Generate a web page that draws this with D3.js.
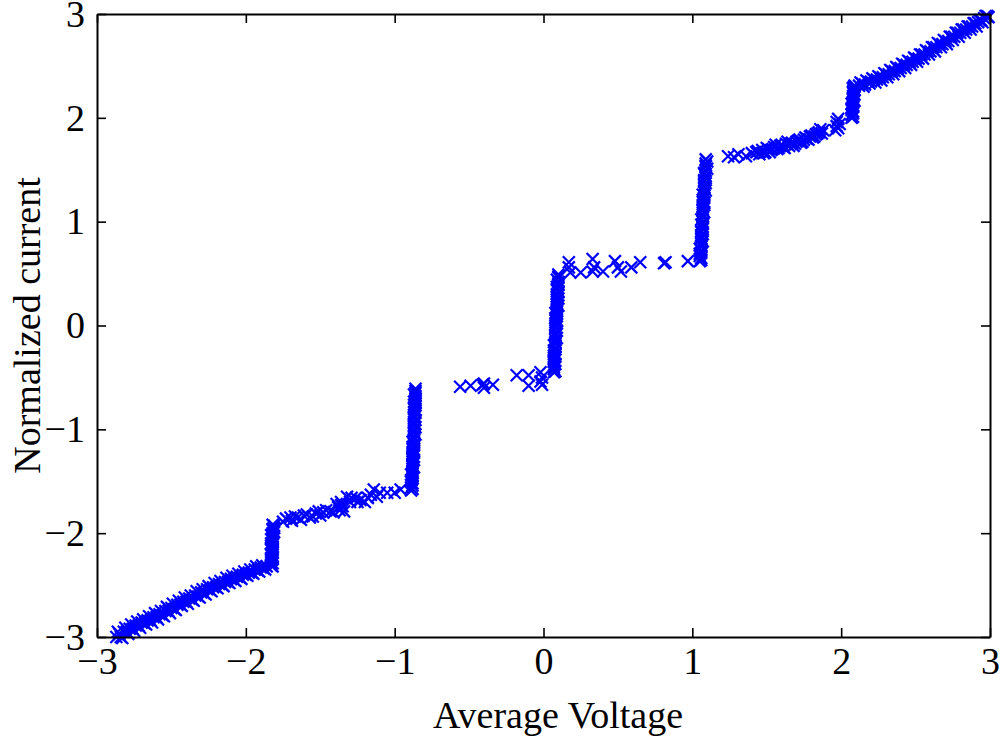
<!DOCTYPE html>
<html><head><meta charset="utf-8">
<script src="https://cdn.jsdelivr.net/npm/d3@7"></script>
<style>
body{margin:0;background:#fff}
svg{display:block}
text{font-family:"Liberation Serif","Times New Roman",serif;fill:#000}
</style>
</head><body>
<svg id="chart" width="1008" height="740"></svg>
<script>
const xTicks = [-3, -2, -1, 0, 1, 2, 3];
const yTicks = [-3, -2, -1, 0, 1, 2, 3];
const xLabel = "Average Voltage";
const yLabel = "Normalized current";

const lowerBand = [[-2.87,-3.00],[-2.85,-2.97],[-2.84,-3.00],[-2.82,-2.95],[-2.80,-2.95],[-2.78,-2.92],[-2.76,-2.92],[-2.74,-2.89],[-2.72,-2.89],[-2.70,-2.86],[-2.68,-2.87],[-2.66,-2.84],[-2.64,-2.84],[-2.62,-2.81],[-2.60,-2.81],[-2.58,-2.78],[-2.56,-2.79],[-2.54,-2.75],[-2.52,-2.75],[-2.50,-2.72],[-2.48,-2.73],[-2.46,-2.69],[-2.44,-2.69],[-2.42,-2.66],[-2.40,-2.66],[-2.38,-2.63],[-2.36,-2.64],[-2.34,-2.60],[-2.32,-2.61],[-2.30,-2.57],[-2.28,-2.58],[-2.26,-2.54],[-2.24,-2.55],[-2.22,-2.52],[-2.20,-2.52],[-2.18,-2.49],[-2.16,-2.50],[-2.14,-2.47],[-2.12,-2.47],[-2.10,-2.44],[-2.08,-2.45],[-2.06,-2.42],[-2.04,-2.43],[-2.02,-2.40],[-2.00,-2.40],[-1.98,-2.38],[-1.96,-2.38],[-1.94,-2.35],[-1.92,-2.36],[-1.90,-2.33],[-1.88,-2.34],[-1.86,-2.32]];
const lowerBandB = [[-2.86,-2.95],[-2.83,-3.01],[-2.81,-2.91],[-2.79,-2.97],[-2.77,-2.88],[-2.75,-2.94],[-2.73,-2.85],[-2.71,-2.91],[-2.69,-2.83],[-2.67,-2.88],[-2.65,-2.80],[-2.63,-2.86],[-2.61,-2.77],[-2.59,-2.83],[-2.57,-2.75],[-2.55,-2.80],[-2.53,-2.71],[-2.51,-2.77],[-2.49,-2.68],[-2.47,-2.74],[-2.45,-2.65],[-2.43,-2.70],[-2.41,-2.62],[-2.39,-2.68],[-2.37,-2.60],[-2.35,-2.65],[-2.33,-2.56],[-2.31,-2.62],[-2.29,-2.54],[-2.27,-2.59],[-2.25,-2.51],[-2.23,-2.56],[-2.21,-2.48],[-2.19,-2.53],[-2.17,-2.46],[-2.15,-2.51],[-2.13,-2.43],[-2.11,-2.48],[-2.09,-2.41],[-2.07,-2.46],[-2.05,-2.39],[-2.03,-2.44],[-2.01,-2.37],[-1.99,-2.41],[-1.97,-2.35],[-1.95,-2.39],[-1.93,-2.32],[-1.91,-2.37],[-1.89,-2.31],[-1.87,-2.35]];

const stepNeg2 = [[-1.83,-2.31],[-1.82,-2.29],[-1.83,-2.26],[-1.82,-2.24],[-1.83,-2.21],[-1.82,-2.19],[-1.82,-2.16],[-1.83,-2.14],[-1.82,-2.11],[-1.82,-2.09],[-1.83,-2.06],[-1.82,-2.04],[-1.82,-2.01],[-1.81,-1.99],[-1.82,-1.96],[-1.81,-1.93]];
const stepNeg2B = [[-1.82,-2.32],[-1.83,-2.28],[-1.82,-2.25],[-1.82,-2.23],[-1.83,-2.20],[-1.82,-2.18],[-1.83,-2.15],[-1.82,-2.13],[-1.83,-2.10],[-1.82,-2.07],[-1.82,-2.05],[-1.83,-2.02],[-1.82,-2.00],[-1.82,-1.97],[-1.81,-1.95],[-1.82,-1.92]];

const plateauNeg2 = [[-1.75,-1.89],[-1.70,-1.85],[-1.67,-1.84],[-1.63,-1.87],[-1.59,-1.82],[-1.55,-1.84],[-1.51,-1.79],[-1.48,-1.80],[-1.43,-1.79],[-1.38,-1.75],[-1.37,-1.78],[-1.36,-1.70],[-1.36,-1.73],[-1.35,-1.74],[-1.34,-1.79],[-1.32,-1.65],[-1.30,-1.70],[-1.26,-1.66],[-1.23,-1.68],[-1.20,-1.70],[-1.16,-1.63],[-1.14,-1.58],[-1.12,-1.65],[-1.05,-1.61],[-1.00,-1.61],[-0.96,-1.58]];
const plateauNeg2B = [[-1.73,-1.86],[-1.69,-1.88],[-1.65,-1.85],[-1.61,-1.83],[-1.57,-1.85],[-1.53,-1.81],[-1.50,-1.83],[-1.46,-1.78],[-1.41,-1.80],[-1.39,-1.72],[-1.29,-1.66],[-1.25,-1.70],[-1.18,-1.66],[-1.10,-1.61]];

const stepNeg1 = [[-0.89,-1.59],[-0.89,-1.56],[-0.88,-1.52],[-0.89,-1.49],[-0.88,-1.45],[-0.88,-1.42],[-0.88,-1.38],[-0.88,-1.35],[-0.88,-1.31],[-0.88,-1.28],[-0.88,-1.24],[-0.87,-1.21],[-0.88,-1.17],[-0.87,-1.14],[-0.87,-1.10],[-0.87,-1.07],[-0.87,-1.03],[-0.87,-1.00],[-0.87,-0.96],[-0.87,-0.93],[-0.87,-0.89],[-0.87,-0.86],[-0.86,-0.82],[-0.87,-0.79],[-0.86,-0.75],[-0.86,-0.72],[-0.86,-0.68],[-0.86,-0.65],[-0.86,-0.61]];
const stepNeg1B = [[-0.88,-1.575],[-0.88,-1.54],[-0.89,-1.505],[-0.88,-1.47],[-0.89,-1.435],[-0.88,-1.40],[-0.87,-1.365],[-0.88,-1.33],[-0.87,-1.295],[-0.88,-1.26],[-0.87,-1.225],[-0.88,-1.19],[-0.87,-1.155],[-0.88,-1.12],[-0.87,-1.085],[-0.86,-1.05],[-0.87,-1.015],[-0.86,-0.98],[-0.87,-0.945],[-0.86,-0.91],[-0.87,-0.875],[-0.86,-0.84],[-0.87,-0.805],[-0.86,-0.77],[-0.87,-0.735],[-0.86,-0.70],[-0.87,-0.665],[-0.86,-0.63]];

const plateauNeg0 = [[-0.56,-0.59],[-0.49,-0.58],[-0.41,-0.57],[-0.40,-0.60],[-0.40,-0.56],[-0.34,-0.57],[-0.18,-0.48],[-0.10,-0.48],[-0.10,-0.58],[-0.02,-0.45],[-0.02,-0.54],[-0.01,-0.50],[-0.01,-0.57]];

const step0 = [[0.07,-0.45],[0.07,-0.42],[0.07,-0.38],[0.07,-0.35],[0.07,-0.31],[0.08,-0.28],[0.07,-0.24],[0.08,-0.21],[0.08,-0.17],[0.08,-0.14],[0.08,-0.10],[0.08,-0.07],[0.08,-0.03],[0.08,0.00],[0.09,0.04],[0.08,0.07],[0.09,0.11],[0.09,0.14],[0.09,0.18],[0.09,0.21],[0.09,0.25],[0.09,0.28],[0.10,0.32],[0.09,0.35],[0.10,0.39],[0.10,0.42],[0.10,0.46],[0.10,0.49]];
const step0B = [[0.08,-0.44],[0.07,-0.40],[0.08,-0.37],[0.07,-0.33],[0.08,-0.30],[0.07,-0.26],[0.08,-0.23],[0.07,-0.19],[0.08,-0.16],[0.09,-0.12],[0.08,-0.09],[0.09,-0.05],[0.08,-0.02],[0.09,0.02],[0.08,0.05],[0.09,0.09],[0.08,0.12],[0.09,0.16],[0.10,0.19],[0.09,0.23],[0.10,0.26],[0.09,0.30],[0.10,0.33],[0.09,0.37],[0.10,0.40],[0.09,0.44],[0.10,0.47]];

const plateauPos0 = [[0.17,0.61],[0.17,0.56],[0.18,0.51],[0.25,0.51],[0.33,0.64],[0.33,0.52],[0.34,0.56],[0.40,0.52],[0.48,0.62],[0.50,0.56],[0.52,0.52],[0.59,0.56],[0.65,0.61],[0.82,0.61],[0.81,0.60],[0.97,0.62]];

const step1 = [[1.05,0.62],[1.06,0.65],[1.05,0.69],[1.06,0.72],[1.06,0.76],[1.06,0.79],[1.06,0.83],[1.06,0.86],[1.06,0.90],[1.07,0.93],[1.06,0.97],[1.07,1.00],[1.07,1.04],[1.07,1.07],[1.07,1.11],[1.07,1.14],[1.08,1.18],[1.07,1.21],[1.08,1.25],[1.08,1.28],[1.08,1.32],[1.08,1.35],[1.08,1.39],[1.09,1.42],[1.08,1.46],[1.09,1.49],[1.09,1.53],[1.09,1.56],[1.09,1.60]];
const step1B = [[1.06,0.63],[1.05,0.67],[1.06,0.70],[1.05,0.74],[1.06,0.77],[1.07,0.81],[1.06,0.84],[1.07,0.88],[1.06,0.91],[1.07,0.95],[1.07,0.98],[1.06,1.02],[1.07,1.05],[1.08,1.09],[1.07,1.12],[1.08,1.16],[1.07,1.19],[1.08,1.23],[1.07,1.26],[1.09,1.30],[1.08,1.33],[1.09,1.37],[1.08,1.40],[1.09,1.44],[1.08,1.47],[1.10,1.51],[1.09,1.54],[1.10,1.58]];

const plateauPos1 = [[1.24,1.63],[1.28,1.62],[1.31,1.65],[1.36,1.63],[1.40,1.66],[1.43,1.67],[1.45,1.65],[1.47,1.69],[1.49,1.67],[1.51,1.70],[1.53,1.69],[1.55,1.72],[1.57,1.70],[1.59,1.73],[1.61,1.72],[1.63,1.75],[1.65,1.73],[1.67,1.76],[1.69,1.75],[1.71,1.78],[1.73,1.76],[1.75,1.79],[1.77,1.80],[1.79,1.82],[1.81,1.81],[1.83,1.84],[1.85,1.86],[1.88,1.88],[1.96,1.88],[1.97,1.92],[1.97,1.96],[1.98,1.99],[1.98,1.90],[1.99,1.94]];
const plateauPos1B = [[1.44,1.68],[1.48,1.66],[1.50,1.71],[1.52,1.67],[1.54,1.70],[1.56,1.74],[1.58,1.71],[1.60,1.74],[1.62,1.71],[1.64,1.77],[1.66,1.75],[1.68,1.73],[1.70,1.77],[1.72,1.79],[1.74,1.77],[1.76,1.81],[1.78,1.79],[1.80,1.83],[1.82,1.82],[1.84,1.85],[1.86,1.89],[1.87,1.85]];

const step2 = [[2.07,2.00],[2.07,2.03],[2.08,2.06],[2.07,2.09],[2.08,2.12],[2.08,2.15],[2.08,2.18],[2.08,2.21],[2.08,2.24],[2.09,2.27],[2.08,2.29],[2.09,2.31]];
const step2B = [[2.08,2.01],[2.08,2.045],[2.07,2.075],[2.08,2.105],[2.07,2.135],[2.09,2.165],[2.08,2.195],[2.09,2.225],[2.08,2.255],[2.08,2.28],[2.09,2.30]];

const upperBand = [[2.12,2.31],[2.14,2.33],[2.16,2.32],[2.18,2.35],[2.20,2.35],[2.22,2.37],[2.24,2.37],[2.26,2.39],[2.28,2.39],[2.30,2.42],[2.32,2.42],[2.34,2.45],[2.36,2.45],[2.38,2.48],[2.40,2.48],[2.42,2.51],[2.44,2.51],[2.46,2.54],[2.48,2.54],[2.50,2.57],[2.52,2.57],[2.54,2.61],[2.56,2.61],[2.58,2.64],[2.60,2.64],[2.62,2.68],[2.64,2.68],[2.66,2.71],[2.68,2.71],[2.70,2.74],[2.72,2.74],[2.74,2.78],[2.76,2.78],[2.78,2.82],[2.80,2.82],[2.82,2.85],[2.84,2.85],[2.86,2.88],[2.88,2.88],[2.90,2.91],[2.92,2.92],[2.94,2.94],[2.96,2.96],[2.98,2.98]];
const upperBandB = [[2.13,2.34],[2.15,2.30],[2.17,2.36],[2.19,2.33],[2.21,2.38],[2.23,2.34],[2.25,2.40],[2.27,2.36],[2.29,2.43],[2.31,2.39],[2.33,2.46],[2.35,2.42],[2.37,2.49],[2.39,2.45],[2.41,2.52],[2.43,2.48],[2.45,2.55],[2.47,2.51],[2.49,2.58],[2.51,2.54],[2.53,2.61],[2.55,2.57],[2.57,2.65],[2.59,2.61],[2.61,2.68],[2.63,2.64],[2.65,2.72],[2.67,2.68],[2.69,2.75],[2.71,2.71],[2.73,2.78],[2.75,2.75],[2.77,2.82],[2.79,2.78],[2.81,2.85],[2.83,2.82],[2.85,2.88],[2.87,2.85],[2.89,2.91],[2.91,2.88],[2.93,2.94],[2.95,2.92],[2.97,2.98],[2.99,2.97]];

const allPoints = [].concat(lowerBand, lowerBandB, stepNeg2, stepNeg2B, plateauNeg2, plateauNeg2B,
  stepNeg1, stepNeg1B, plateauNeg0, step0, step0B, plateauPos0, step1, step1B,
  plateauPos1, plateauPos1B, step2, step2B, upperBand, upperBandB);

const L = 97, R = 990, T = 14, B = 637;
const x = d3.scaleLinear().domain([-3, 3]).range([L, R]);
const y = d3.scaleLinear().domain([-3, 3]).range([B, T]);
const fmt = d3.format("");
const svg = d3.select("#chart");
const FS = "38px";

// markers
const ms = 6;
svg.append("g")
  .selectAll("path")
  .data(allPoints)
  .join("path")
  .attr("transform", d => `translate(${x(d[0])},${y(d[1])})`)
  .attr("d", `M${-ms},${-ms}L${ms},${ms}M${-ms},${ms}L${ms},${-ms}`)
  .attr("stroke", "#0000ff")
  .attr("stroke-width", 2.2)
  .attr("fill", "none");

function styleAxis(g) {
  g.selectAll(".domain").attr("stroke", "#000").attr("stroke-width", 2);
  g.selectAll(".tick line").attr("stroke", "#000").attr("stroke-width", 1.6);
  g.selectAll(".tick text").style("font-size", FS).attr("fill", "#000");
}

svg.append("g").attr("transform", `translate(0,${B})`)
  .call(d3.axisBottom(x).tickValues(xTicks).tickFormat(fmt).tickSizeInner(-9).tickSizeOuter(0).tickPadding(10))
  .call(styleAxis);
svg.append("g").attr("transform", `translate(0,${T})`)
  .call(d3.axisTop(x).tickValues(xTicks).tickFormat("").tickSizeInner(-9).tickSizeOuter(0))
  .call(styleAxis);
svg.append("g").attr("transform", `translate(${L},0)`)
  .call(d3.axisLeft(y).tickValues(yTicks).tickFormat(fmt).tickSizeInner(-9).tickSizeOuter(0).tickPadding(12))
  .call(styleAxis);
svg.append("g").attr("transform", `translate(${R},0)`)
  .call(d3.axisRight(y).tickValues(yTicks).tickFormat("").tickSizeInner(-9).tickSizeOuter(0))
  .call(styleAxis);

svg.selectAll(".tick text").attr("font-family", null);

svg.append("text")
  .attr("x", 558).attr("y", 728)
  .attr("text-anchor", "middle")
  .style("font-size", FS)
  .text(xLabel);

svg.append("text")
  .attr("transform", `translate(40,${(T + B) / 2}) rotate(-90)`)
  .attr("text-anchor", "middle")
  .style("font-size", FS)
  .text(yLabel);
</script>
</body></html>
